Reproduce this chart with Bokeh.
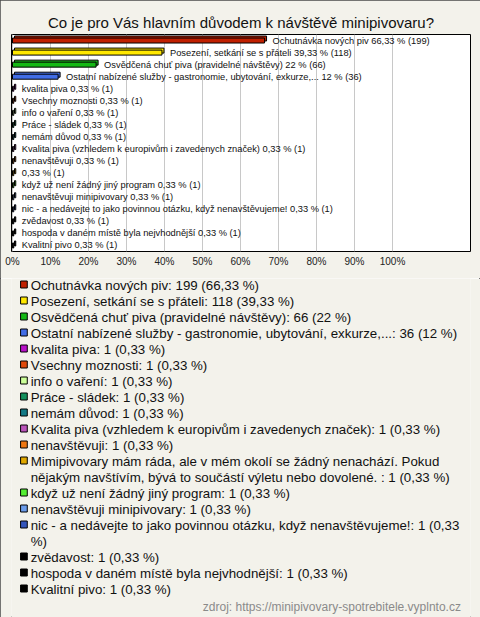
from bokeh.plotting import figure
from bokeh.models import Range1d, FixedTicker, PrintfTickFormatter, ColumnDataSource
from bokeh.layouts import column
from bokeh.embed import file_html
from bokeh.resources import INLINE
from bokeh.core.properties import value

# ---------------- data ----------------
title_text = "Co je pro Vás hlavním důvodem k návštěvě minipivovaru?"
source_text = "zdroj: https://minipivovary-spotrebitele.vyplnto.cz"

categories = [
    "Ochutnávka nových piv",
    "Posezení, setkání se s přáteli",
    "Osvědčená chuť piva (pravidelné návštěvy)",
    "Ostatní nabízené služby - gastronomie, ubytování, exkurze,...",
    "kvalita piva",
    "Vsechny moznosti",
    "info o vaření",
    "Práce - sládek",
    "nemám důvod",
    "Kvalita piva (vzhledem k europivům i zavedenych značek)",
    "nenavštěvuji",
    "Mimipivovary mám ráda, ale v mém okolí se žádný nenachází. Pokud nějakým navštívím, bývá to součástí výletu nebo dovolené. ",
    "když už není žádný jiný program",
    "nenavštěvuji minipivovary",
    "nic - a nedávejte to jako povinnou otázku, když nenavštěvujeme!",
    "zvědavost",
    "hospoda  v daném místě byla nejvhodnější",
    "Kvalitní pivo",
]
counts = [199, 118, 66, 36, 1, 1, 1, 1, 1, 1, 1, 1, 1, 1, 1, 1, 1, 1]
percents = [66.33, 39.33, 22, 12, 0.33, 0.33, 0.33, 0.33, 0.33, 0.33,
            0.33, 0.33, 0.33, 0.33, 0.33, 0.33, 0.33, 0.33]
colors = [
    "#C02000", "#FFE800", "#14B814", "#416DE6", "#B812C8", "#E04A0C",
    "#CCFF99", "#128F5C", "#137A86", "#BB55BB", "#EE7711", "#E0A800",
    "#55EE33", "#6B9CEB", "#3355BB", "#000000", "#000000", "#000000",
]
x_ticks = [0, 10, 20, 30, 40, 50, 60, 70, 80, 90, 100]
hidden_bar_names = {11}                 # name not printed next to the bar
legend_breaks = {11: "Pokud ", 14: "(0,33 "}  # where long legend labels wrap

# ---------------- styling / layout ----------------
BG = "#F3F2EB"
FONT = "Liberation Sans"
W = 480
H1 = 278
H2 = 617 - H1
PX = 3.8                      # pixels per percent
ML, MR, MT, MB = 11, 10, 34, 27
n = len(categories)
ROW_PX = (H1 - MT - MB) / n


def fmt(v):
    return f"{v:g}".replace(".", ",")


frame_w = W - ML - MR
x_start = -1 / PX
p = figure(width=W, height=H1, output_backend="svg", toolbar_location=None,
           x_range=Range1d(x_start, x_start + frame_w / PX),
           y_range=Range1d(n, 0), y_axis_location=None,
           min_border_left=ML, min_border_right=MR,
           min_border_top=MT, min_border_bottom=MB,
           background_fill_color="white", border_fill_color=BG,
           outline_line_color="black", outline_line_width=1)

p.title.text = title_text
p.title.align = "center"
p.title.text_font = FONT
p.title.text_font_size = "15px"
p.title.text_font_style = "normal"
p.title.text_color = "#111111"
p.title.standoff = 8

p.xaxis.ticker = FixedTicker(ticks=x_ticks)
p.xaxis.formatter = PrintfTickFormatter(format="%d%%")
p.xaxis.axis_line_color = None
p.xaxis.major_tick_line_color = None
p.xaxis.minor_tick_line_color = None
p.xaxis.major_tick_out = 0
p.xaxis.major_tick_in = 0
p.xaxis.major_label_text_font = FONT
p.xaxis.major_label_text_font_size = "10px"
p.xaxis.major_label_text_color = "#222222"
p.xaxis.major_label_standoff = 4
p.xgrid.ticker = FixedTicker(ticks=x_ticks)
p.xgrid.grid_line_color = "#C8C8C8"
p.ygrid.grid_line_color = None

rows = [i + 0.5 for i in range(n)]
bar_h = 5 / ROW_PX
dx = 2 / PX
dy = 2 / ROW_PX
bar_labels = []
for i, (c, v, k) in enumerate(zip(categories, percents, counts)):
    name = "" if i in hidden_bar_names else c + " "
    bar_labels.append(f"{name}{fmt(v)} % ({k})")

src = ColumnDataSource(dict(
    left=[0] * n, right=percents,
    top=[r - bar_h / 2 for r in rows], bottom=[r + bar_h / 2 for r in rows],
    bleft=[dx] * n, bright=[v + dx for v in percents],
    btop=[r - bar_h / 2 - dy for r in rows], bbottom=[r + bar_h / 2 - dy for r in rows],
    color=colors, y=rows, x=percents, label=bar_labels,
))
p.quad(left="bleft", right="bright", top="btop", bottom="bbottom",
       fill_color="color", line_color="black", line_width=1, source=src)
p.quad(left="left", right="right", top="top", bottom="bottom",
       fill_color="color", line_color="black", line_width=1, source=src)
p.text(x="x", y="y", text="label", x_offset=8, source=src,
       text_font=value(FONT), text_font_size="9.3px", text_baseline="middle",
       text_color="#111111")

# ---------------- legend panel (page pixel coordinates) ----------------
top_page = H1
p2 = figure(width=W, height=H2, output_backend="svg", toolbar_location=None,
            x_range=Range1d(0, W), y_range=Range1d(top_page + H2, top_page),
            x_axis_location=None, y_axis_location=None, min_border=0,
            background_fill_color=BG, border_fill_color=BG, outline_line_color=None)
p2.grid.grid_line_color = None

LEG_MID = 284.5
LEG_STEP = 16
sq_x, sq_y, sq_c = [], [], []
tx, ty, tt = [], [], []
line = 0
for i, (c, v, k, col) in enumerate(zip(categories, percents, counts, colors)):
    text = f"{c}: {k} ({fmt(v)} %)"
    parts = [text]
    if i in legend_breaks:
        tok = legend_breaks[i]
        idx = text.index(tok) + len(tok)
        parts = [text[:idx].rstrip(), text[idx:]]
    mid = LEG_MID + LEG_STEP * line
    sq_x.append(13)
    sq_y.append(mid - 0.5)
    sq_c.append(col)
    for part in parts:
        tx.append(20)
        ty.append(LEG_MID + LEG_STEP * line)
        tt.append(part)
        line += 1

p2.rect(x=sq_x, y=sq_y, width=7, height=7, fill_color=sq_c, line_color="black", line_width=1)
p2.text(x=tx, y=ty, text=tt, text_font=value(FONT), text_font_size="13.3px",
        text_baseline="middle", text_color="#111111")
p2.text(x=[470], y=[606], text=[source_text], text_font=value(FONT),
        text_font_size="12px", text_align="right", text_baseline="middle",
        text_color="#8A8A8A")

layout = column(p, p2, spacing=0,
                styles={"outline": "1px solid #4A4A4A", "outline-offset": "-1px"})
open("out.html", "w").write(file_html(layout, INLINE))
